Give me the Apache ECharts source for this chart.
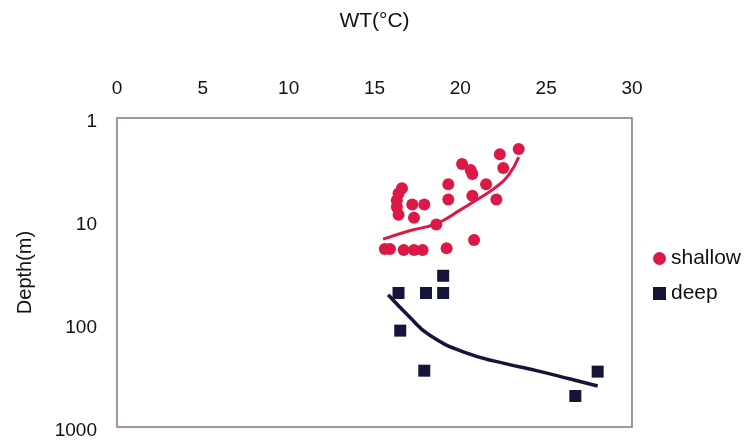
<!DOCTYPE html>
<html>
<head>
<meta charset="utf-8">
<script src="https://cdn.jsdelivr.net/npm/echarts@6/dist/echarts.min.js"></script>
<style>
  html, body { margin: 0; padding: 0; background: #ffffff; }
  #chart { width: 752px; height: 448px; }
</style>
</head>
<body>
<div id="chart"></div>
<script>
// Water temperature (°C) against sampling depth (m)
const xTicks = [0, 5, 10, 15, 20, 25, 30];
const depthTicks = [1, 10, 100, 1000];

// shallow samples: [WT, depth]
const shallowWT =    [23.4, 22.3, 20.1, 20.6, 20.7, 22.5, 19.3, 21.5, 19.3, 20.7, 22.1, 20.8, 19.2,
                      16.6, 16.4, 16.3, 16.3, 16.4, 17.2, 17.9, 17.3, 18.6, 15.6, 15.9, 16.7, 17.3, 17.8];
const shallowDepth = [2.0,  2.25, 2.8,  3.2,  3.5,  3.05, 4.4,  4.4,  6.2,  5.7,  6.2,  15.3, 18.4,
                      4.8,  5.4,  6.3,  7.3,  8.7,  6.9,  6.9,  9.3,  10.8, 18.7, 18.7, 19.1, 19.1, 19.1];

// deep samples: [WT, depth]
const deepWT =    [16.4, 18.0, 19.0, 19.0, 16.5, 17.9, 28.0, 26.7];
const deepDepth = [50,   50,   50,   34,   116,  284,  290,  500];

// fitted trend curves
const shallowFitWT =    [15.5, 17.0, 18.6, 20.0, 21.1, 22.0, 22.8, 23.4];
const shallowFitDepth = [15.0, 12.5, 10.6, 7.8,  6.0,  4.8,  3.6,  2.4];
const deepFitWT =    [15.8, 17.0, 18.2, 20.3, 22.5, 24.5, 26.4, 28.0];
const deepFitDepth = [52,   84,   128,  190,  240,  285,  342,  400];

const pairs = (xs, ys) => xs.map((x, i) => [x, ys[i]]);

const RED = '#dc1846';
const NAVY = '#15153a';
const FONT = '"Liberation Sans", Arial, sans-serif';

const chart = echarts.init(document.getElementById('chart'), null, { renderer: 'canvas' });
chart.setOption({
  animation: false,
  backgroundColor: '#ffffff',
  textStyle: { fontFamily: FONT, color: '#111' },
  grid: {
    left: 117, top: 118, width: 515, height: 309,
    outerBoundsMode: 'none',
    containLabel: false,
    show: true, borderColor: '#8c7474', borderWidth: 1.5, backgroundColor: 'transparent'
  },
  legend: {
    orient: 'vertical',
    left: 648, top: 243,
    itemGap: 14,
    itemWidth: 13, itemHeight: 13,
    textStyle: { fontFamily: FONT, fontSize: 21, color: '#111' },
    data: [
      { name: 'shallow', icon: 'circle' },
      { name: 'deep', icon: 'rect' }
    ]
  },
  xAxis: {
    type: 'value',
    position: 'top',
    min: xTicks[0], max: xTicks[xTicks.length - 1], interval: 5,
    name: 'WT(°C)',
    nameLocation: 'middle',
    nameGap: 86,
    nameTextStyle: { fontFamily: FONT, fontSize: 21, color: '#111' },
    axisLine: { show: false },
    axisTick: { show: false },
    splitLine: { show: false },
    axisLabel: { fontFamily: FONT, fontSize: 19, color: '#111', margin: 20 }
  },
  yAxis: {
    type: 'log',
    logBase: 10,
    inverse: true,
    min: depthTicks[0], max: depthTicks[depthTicks.length - 1],
    name: 'Depth(m)',
    nameLocation: 'middle',
    nameGap: 82,
    nameRotate: 90,
    nameTextStyle: { fontFamily: FONT, fontSize: 20, color: '#111' },
    axisLine: { show: false },
    axisTick: { show: false },
    splitLine: { show: false },
    axisLabel: {
      fontFamily: FONT, fontSize: 19, color: '#111', margin: 20,
      verticalAlign: 'top', lineHeight: 8,
      formatter: (v) => String(Math.round(v))
    }
  },
  series: [
    {
      name: 'shallow', type: 'scatter', symbol: 'circle', symbolSize: 12,
      itemStyle: { color: RED, opacity: 1 },
      data: pairs(shallowWT, shallowDepth), z: 3
    },
    {
      name: 'deep', type: 'scatter', symbol: 'rect', symbolSize: 12,
      itemStyle: { color: NAVY, opacity: 1 },
      data: pairs(deepWT, deepDepth), z: 3
    },
    {
      name: 'shallow fit', type: 'line', smooth: true, showSymbol: false, silent: true,
      lineStyle: { color: RED, width: 3 },
      data: pairs(shallowFitWT, shallowFitDepth), z: 2
    },
    {
      name: 'deep fit', type: 'line', smooth: true, showSymbol: false, silent: true,
      lineStyle: { color: NAVY, width: 3.5 },
      data: pairs(deepFitWT, deepFitDepth), z: 2
    }
  ]
});
</script>
</body>
</html>
